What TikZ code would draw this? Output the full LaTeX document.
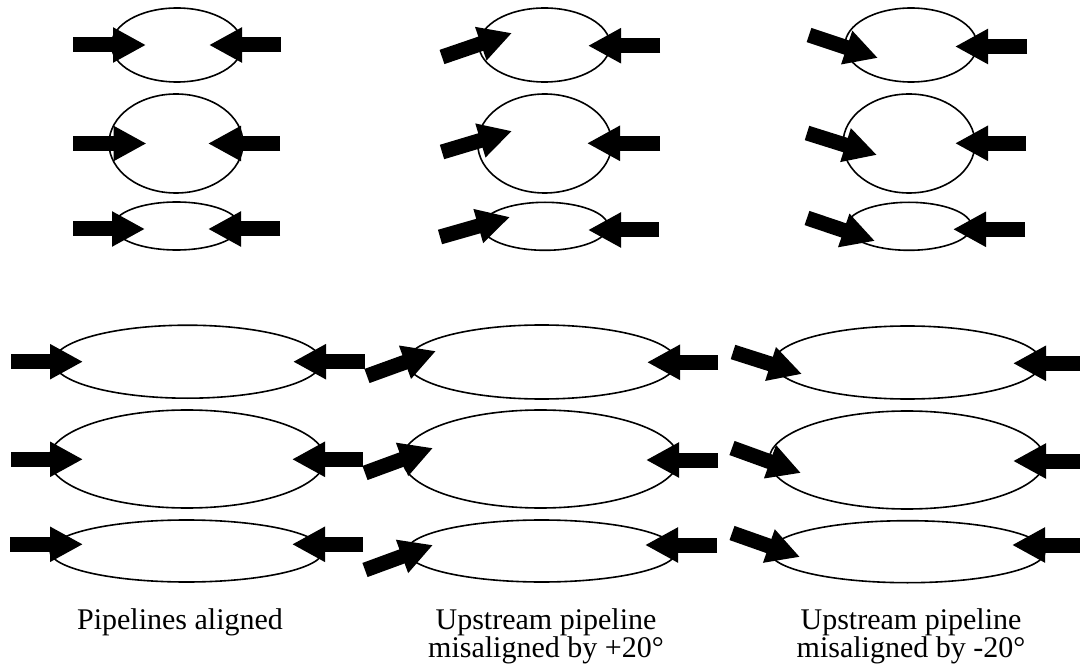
\documentclass[tikz,border=0pt]{standalone}
\usepackage{fontspec}
\setmainfont{Liberation Serif}
\usetikzlibrary{arrows.meta,shapes.geometric}
\begin{document}
\begin{tikzpicture}[x=1pt,y=-1pt,
  pipe/.style={draw=black,line width=1.6pt,ellipse,inner sep=0pt,fill=none},
  bigarrow/.style={line width=15pt,-{Triangle[length=33pt,width=33pt]}},
  caption/.style={anchor=base,inner sep=0pt,font=\fontsize{30}{34}\selectfont}]
\useasboundingbox (0,0) rectangle (1080,671);
% ---------- ellipses (top) ----------
\node[pipe,minimum width=131pt,minimum height=74pt] (a1) at (177,45) {};
\node[pipe,minimum width=134pt,minimum height=99pt] (a2) at (176,143.5) {};
\node[pipe,minimum width=126pt,minimum height=48pt] (a3) at (176.5,226) {};
\node[pipe,minimum width=131pt,minimum height=74pt] (b1) at (544.5,45) {};
\node[pipe,minimum width=134pt,minimum height=99pt] (b2) at (544.7,143.5) {};
\node[pipe,minimum width=126pt,minimum height=48pt] (b3) at (545,226.3) {};
\node[pipe,minimum width=132pt,minimum height=74pt] (c1) at (911,45) {};
\node[pipe,minimum width=132pt,minimum height=99pt] (c2) at (909,143.5) {};
\node[pipe,minimum width=125pt,minimum height=48pt] (c3) at (909,226.3) {};
% ---------- ellipses (bottom) ----------
\node[pipe,minimum width=268pt,minimum height=73pt] (d1) at (187.5,361.7) {};
\node[pipe,minimum width=276pt,minimum height=98pt] (d2) at (187,459) {};
\node[pipe,minimum width=273pt,minimum height=62pt] (d3) at (186.5,551) {};
\node[pipe,minimum width=270pt,minimum height=74pt] (e1) at (541.7,362) {};
\node[pipe,minimum width=276pt,minimum height=98pt] (e2) at (540.5,459) {};
\node[pipe,minimum width=270pt,minimum height=62pt] (e3) at (541.7,551) {};
\node[pipe,minimum width=268pt,minimum height=73pt] (f1) at (907.5,362.5) {};
\node[pipe,minimum width=276pt,minimum height=98pt] (f2) at (907,460) {};
\node[pipe,minimum width=275pt,minimum height=62pt] (f3) at (907.5,551.7) {};
% ---------- arrow end points ----------
% column 1 top
\coordinate (a1Ls) at (73,45);   \coordinate (a1Lt) at (146,45);
\coordinate (a1Rs) at (281,45);  \coordinate (a1Rt) at (209,45);
\coordinate (a2Ls) at (73,143.5);\coordinate (a2Lt) at (146.5,143.5);
\coordinate (a2Rs) at (280,143.5);\coordinate (a2Rt) at (208,143.5);
\coordinate (a3Ls) at (73,229);  \coordinate (a3Lt) at (145,229);
\coordinate (a3Rs) at (280,229); \coordinate (a3Rt) at (208,229);
% column 2 top
\coordinate (b1Ls) at (442,57);  \coordinate (b1Lt) at (512,33);
\coordinate (b1Rs) at (660,45.7);\coordinate (b1Rt) at (588,45.7);
\coordinate (b2Ls) at (442,152); \coordinate (b2Lt) at (512,131);
\coordinate (b2Rs) at (660,143.3);\coordinate (b2Rt) at (587,143.3);
\coordinate (b3Ls) at (440,237); \coordinate (b3Lt) at (510,217);
\coordinate (b3Rs) at (659,230); \coordinate (b3Rt) at (588,230);
% column 3 top
\coordinate (c1Ls) at (809,35);  \coordinate (c1Lt) at (878,58);
\coordinate (c1Rs) at (1027,46.5);\coordinate (c1Rt) at (955,46.5);
\coordinate (c2Ls) at (807,133); \coordinate (c2Lt) at (877,155);
\coordinate (c2Rs) at (1026,143.3);\coordinate (c2Rt) at (955,143.3);
\coordinate (c3Ls) at (807,218); \coordinate (c3Lt) at (875,241);
\coordinate (c3Rs) at (1025,229.3);\coordinate (c3Rt) at (953,229.3);
% column 1 bottom
\coordinate (d1Ls) at (11,361.7);\coordinate (d1Lt) at (83,361.7);
\coordinate (d1Rs) at (365,361.7);\coordinate (d1Rt) at (293,361.7);
\coordinate (d2Ls) at (11,459.3);\coordinate (d2Lt) at (83,459.3);
\coordinate (d2Rs) at (363,459.3);\coordinate (d2Rt) at (292,459.3);
\coordinate (d3Ls) at (10,544.3);\coordinate (d3Lt) at (83,544.3);
\coordinate (d3Rs) at (363,544.3);\coordinate (d3Rt) at (292,544.3);
% column 2 bottom
\coordinate (e1Ls) at (367,376); \coordinate (e1Lt) at (436,351);
\coordinate (e1Rs) at (718,362.3);\coordinate (e1Rt) at (647,362.3);
\coordinate (e2Ls) at (365,473); \coordinate (e2Lt) at (433,448);
\coordinate (e2Rs) at (718,460); \coordinate (e2Rt) at (646,460);
\coordinate (e3Ls) at (365,570); \coordinate (e3Lt) at (433,545);
\coordinate (e3Rs) at (717,545); \coordinate (e3Rt) at (645,545);
% column 3 bottom
\coordinate (f1Ls) at (733,352); \coordinate (f1Lt) at (802,374);
\coordinate (f1Rs) at (1084,363.3);\coordinate (f1Rt) at (1013,363.3);
\coordinate (f2Ls) at (732,448); \coordinate (f2Lt) at (801,473);
\coordinate (f2Rs) at (1084,461);\coordinate (f2Rt) at (1013,461);
\coordinate (f3Ls) at (732,533); \coordinate (f3Lt) at (800,557);
\coordinate (f3Rs) at (1084,545);\coordinate (f3Rt) at (1012,545);
% ---------- arrows ----------
\foreach \p in {a1,a2,a3,b1,b2,b3,c1,c2,c3,d1,d2,d3,e1,e2,e3,f1,f2,f3}{
  \draw[bigarrow] (\p Ls) -- (\p Lt);
  \draw[bigarrow] (\p Rs) -- (\p Rt);
}
% ---------- captions ----------
\node[caption] (t1) at (180,629) {Pipelines aligned};
\node[caption] (t2a) at (546,629) {Upstream pipeline};
\node[caption] (t2b) at (546,657) {misaligned by +20°};
\node[caption] (t3a) at (911,629) {Upstream pipeline};
\node[caption] (t3b) at (911,657) {misaligned by -20°};
\end{tikzpicture}
\end{document}
